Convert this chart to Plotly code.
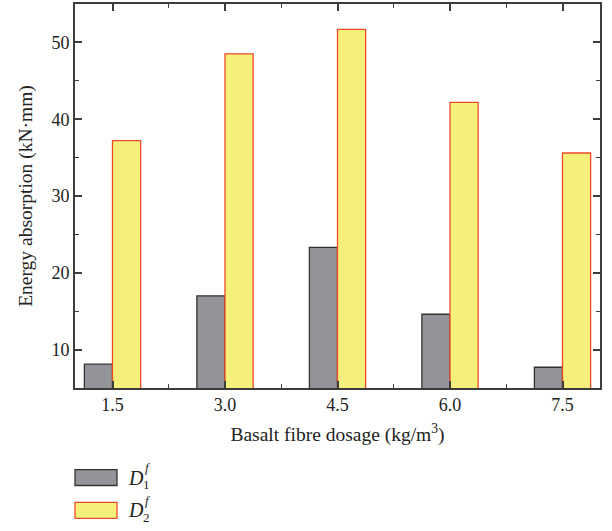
import plotly.graph_objects as go

dosage = [1.5, 3.0, 4.5, 6.0, 7.5]
d1_values = [8.1, 17.0, 23.3, 14.6, 7.7]
d2_values = [37.2, 48.5, 51.7, 42.2, 35.6]

W, H = 612, 531
L, R, T, B = 75, 12, 2, 143
pw, ph = W - L - R, H - T - B


def px(x):
    return (x - L) / pw


def py(y):
    return (H - B - y) / ph


FONT = "Liberation Serif"
AX = "#3c3c3c"

fig = go.Figure()
fig.add_bar(x=dosage, y=d1_values, name="D1",
            marker=dict(color="#939499", line=dict(color="#333333", width=1.3)))
fig.add_bar(x=dosage, y=d2_values, name="D2",
            marker=dict(color="#f5f07c", line=dict(color="#f04b28", width=1.3)))

axis_common = dict(showline=True, linecolor=AX, linewidth=1.6, mirror="ticks",
                   ticks="inside", ticklen=7, tickwidth=1.5, tickcolor=AX,
                   showgrid=False, zeroline=False,
                   tickfont=dict(family=FONT, size=18, color="#222"))

fig.update_xaxes(range=[1.0, 8.0], tickmode="linear", tick0=1.5, dtick=1.5,
                 tickformat=".1f",
                 minor=dict(ticks="inside", ticklen=4, tickwidth=1.3, tickcolor=AX, dtick=0.75),
                 title=dict(text="Basalt fibre dosage (kg/m<sup>3</sup>)",
                            font=dict(family=FONT, size=19.5, color="#222"), standoff=13),
                 **axis_common)
fig.update_yaxes(range=[5, 55], tickmode="linear", tick0=10, dtick=10,
                 minor=dict(ticks="inside", ticklen=4, tickwidth=1.3, tickcolor=AX, dtick=5),
                 title=dict(text="Energy absorption (kN·mm)",
                            font=dict(family=FONT, size=19.5, color="#222"), standoff=14),
                 **axis_common)

shapes = [
    dict(type="rect", xref="paper", yref="paper", x0=px(75), x1=px(117), y0=py(470), y1=py(486),
         fillcolor="#939499", line=dict(color="#333333", width=1.3)),
    dict(type="rect", xref="paper", yref="paper", x0=px(75), x1=px(117), y0=py(503), y1=py(519),
         fillcolor="#f5f07c", line=dict(color="#f04b28", width=1.3)),
]

ann = []
for yc, sub in [(478, "1"), (511, "2")]:
    ann.append(dict(xref="paper", yref="paper", x=px(127), y=py(yc), xanchor="left", yanchor="middle",
                    text="<i>D</i>", showarrow=False, borderpad=0,
                    font=dict(family=FONT, size=20, color="#222")))
    ann.append(dict(xref="paper", yref="paper", x=px(144), y=py(yc - 10), xanchor="left", yanchor="middle",
                    text="<i>f</i>", showarrow=False, borderpad=0,
                    font=dict(family=FONT, size=13, color="#222")))
    ann.append(dict(xref="paper", yref="paper", x=px(142), y=py(yc + 7), xanchor="left", yanchor="middle",
                    text=sub, showarrow=False, borderpad=0,
                    font=dict(family=FONT, size=13, color="#222")))

fig.update_layout(width=W, height=H, margin=dict(l=L, r=R, t=T, b=B),
                  paper_bgcolor="white", plot_bgcolor="white",
                  barmode="group", bargap=0.5, bargroupgap=0,
                  showlegend=False, shapes=shapes, annotations=ann)

fig.write_html("out.html", config={"displayModeBar": False},
               post_script="document.body.style.margin='0';document.body.style.overflow='hidden';")
